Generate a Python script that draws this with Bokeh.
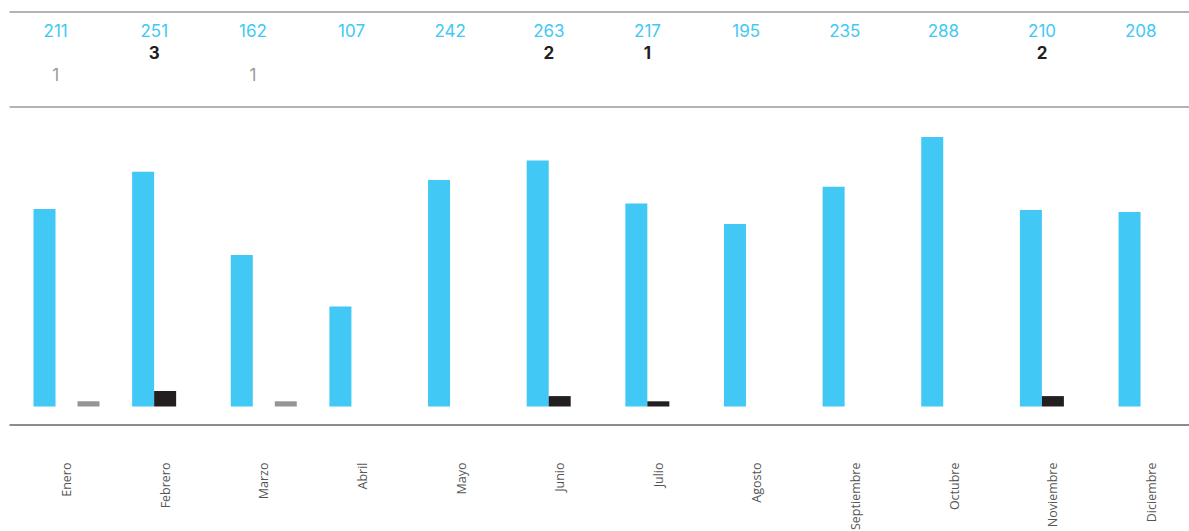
import math
from bokeh.plotting import figure
from bokeh.models import Range1d, ColumnDataSource
from bokeh.transform import dodge
from bokeh.core.properties import value
from bokeh.embed import file_html
from bokeh.resources import INLINE

# ---- data ----
months = ["Enero", "Febrero", "Marzo", "Abril", "Mayo", "Junio",
          "Julio", "Agosto", "Septiembre", "Octubre", "Noviembre", "Diciembre"]
total_values = [211, 251, 162, 107, 242, 263, 217, 195, 235, 288, 210, 208]
dark_values = [0, 3, 0, 0, 0, 2, 1, 0, 0, 0, 2, 0]
gray_values = [1, 0, 1, 0, 0, 0, 0, 0, 0, 0, 0, 0]

# ---- style ----
BLUE = "#41c8f4"
DARK = "#231f20"
GRAY = "#959595"
LINE = "#9a9a9a"
W, H = 1189, 531
PX_PER_CAT = 98.64
BAR_W = 22 / PX_PER_CAT
BASE_PX = 406           # baseline of bars, px from top of figure
BLUE_PX_PER_UNIT = 0.9356
CNT_PX_PER_UNIT = 5.2
NUM_FONT = value("Inter")
MONTH_FONT = value("Open Sans")

idx = list(range(len(months)))
src = ColumnDataSource(dict(i=idx, month=months, total=total_values,
                            total_txt=[str(v) for v in total_values],
                            dark=dark_values, gray=gray_values))
dark_src = ColumnDataSource(dict(
    i=[i for i, v in zip(idx, dark_values) if v],
    txt=[str(v) for v in dark_values if v]))
gray_src = ColumnDataSource(dict(
    i=[i for i, v in zip(idx, gray_values) if v],
    txt=[str(v) for v in gray_values if v]))

x0 = -66 / PX_PER_CAT
p = figure(width=W, height=H, output_backend="svg", toolbar_location=None,
           x_range=Range1d(x0, x0 + W / PX_PER_CAT),
           y_range=Range1d(H, 0),   # layout units: px from top
           min_border=0, outline_line_color=None)
p.axis.visible = False
p.grid.visible = False
p.background_fill_color = "white"
p.border_fill_color = "white"

p.extra_y_ranges = {
    "blue": Range1d(-(H - BASE_PX) / BLUE_PX_PER_UNIT, BASE_PX / BLUE_PX_PER_UNIT),
    "cnt": Range1d(-(H - BASE_PX) / CNT_PX_PER_UNIT, BASE_PX / CNT_PX_PER_UNIT),
}

# bars
p.vbar(x=dodge("i", -BAR_W, range=p.x_range), top="total", width=BAR_W,
       source=src, y_range_name="blue", fill_color=BLUE, line_color=None)
p.vbar(x=dodge("i", 0, range=p.x_range), top="dark", width=BAR_W,
       source=src, y_range_name="cnt", fill_color=DARK, line_color=None)
p.vbar(x=dodge("i", BAR_W, range=p.x_range), top="gray", width=BAR_W,
       source=src, y_range_name="cnt", fill_color=GRAY, line_color=None)

# rule lines (left edge starts at ~9px like the reference)
xl, xr = x0 + 9 / PX_PER_CAT, x0 + W / PX_PER_CAT
p.segment(x0=xl, x1=xr, y0=11.5, y1=11.5, line_color=LINE, line_width=1.5)
p.segment(x0=xl, x1=xr, y0=106.5, y1=106.5, line_color=LINE, line_width=1.5)
p.segment(x0=xl, x1=xr, y0=424.5, y1=424.5, line_color="#8c8c8c", line_width=2)

# value labels on top
p.text(x=dodge("i", -0.11, range=p.x_range), y=30, text="total_txt", source=src,
       text_color=BLUE, text_font=NUM_FONT, text_font_size="17px",
       text_align="center", text_baseline="middle")
p.text(x=dodge("i", -0.11, range=p.x_range), y=52, text="txt", source=dark_src,
       text_color=DARK, text_font=NUM_FONT, text_font_size="17px",
       text_font_style="bold", text_align="center", text_baseline="middle")
p.text(x=dodge("i", -0.11, range=p.x_range), y=74, text="txt", source=gray_src,
       text_color="#9a9a9a", text_font=NUM_FONT, text_font_size="17px",
       text_align="center", text_baseline="middle")

# month labels (vertical)
p.text(x="i", y=462, text="month", source=src, angle=math.pi / 2,
       text_color="#555555", text_font=MONTH_FONT, text_font_size="12.5px",
       text_align="right", text_baseline="middle")

open("out.html", "w").write(file_html(p, INLINE))
